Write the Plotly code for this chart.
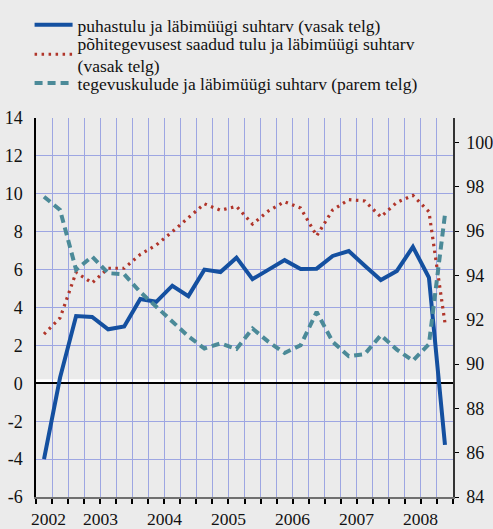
import plotly.graph_objects as go

# kvartalid 2002 I kv ... 2008 II kv
kvartal = list(range(26))
aastad = ["2002", "2003", "2004", "2005", "2006", "2007", "2008"]
aasta_pos = [0.3, 3.5, 7.5, 11.5, 15.5, 19.5, 23.5]

puhastulu = [-4.0, 0.3, 3.55, 3.5, 2.85, 3.0, 4.45, 4.3, 5.15, 4.6,
             6.0, 5.87, 6.63, 5.5, 6.0, 6.5, 6.03, 6.05, 6.72, 6.98,
             6.2, 5.45, 5.93, 7.2, 5.58, -3.25]
pohitegevus = [2.6, 3.45, 5.85, 5.3, 6.07, 6.07, 6.8, 7.3, 8.0, 8.75,
               9.47, 9.13, 9.34, 8.4, 9.1, 9.58, 9.25, 7.78, 9.15, 9.69,
               9.62, 8.78, 9.55, 9.92, 9.06, 3.18]
tegevuskulud = [97.55, 96.95, 94.25, 94.85, 94.1, 94.05, 93.25, 92.6, 91.95, 91.25,
                90.7, 90.93, 90.68, 91.6, 91.0, 90.5, 90.85, 92.35, 91.0, 90.35,
                90.45, 91.3, 90.65, 90.15, 90.9, 96.75]

vasak_ticks = list(range(-6, 15, 2))
vasak_tekst = [str(v) for v in vasak_ticks]  # tavaline miinus, nagu originaalis
parem_ticks = list(range(84, 101, 2))

FONT = "Liberation Serif, Times New Roman, serif"
GRID = "#9da6e2"

fig = go.Figure()

fig.add_trace(go.Scatter(
    x=kvartal, y=tegevuskulud, yaxis="y2", mode="lines", legend="legend3",
    name="tegevuskulude ja läbimüügi suhtarv (parem telg)",
    line=dict(color="#4b8a98", width=4, dash="8px,5px")))
fig.add_trace(go.Scatter(
    x=kvartal, y=pohitegevus, mode="lines", legend="legend2",
    name="põhitegevusest saadud tulu ja läbimüügi suhtarv<br>(vasak telg)",
    line=dict(color="#b0352a", width=3.2, dash="2.5px,4.5px")))
fig.add_trace(go.Scatter(
    x=kvartal, y=puhastulu, mode="lines", legend="legend",
    name="puhastulu ja läbimüügi suhtarv (vasak telg)",
    line=dict(color="#1450a0", width=4)))

# aastad x-teljel
for a, p in zip(aastad, aasta_pos):
    fig.add_annotation(x=p, y=-0.058, xref="x", yref="paper", text=a,
                       showarrow=False, yanchor="middle",
                       font=dict(size=17.5, color="#111", family=FONT))

# valge joon nulljoone kohal
fig.add_shape(type="line", xref="paper", x0=0, x1=1, yref="y",
              ysizemode="pixel", yanchor=0, y0=2.5, y1=2.5,
              line=dict(color="white", width=3), layer="between")

leg = dict(xref="container", yref="container", x=0.06, xanchor="left",
           yanchor="top", bgcolor="rgba(0,0,0,0)",
           font=dict(size=17.5, family=FONT), itemwidth=38)

fig.update_layout(
    width=493, height=529,
    margin=dict(l=36, r=40, t=118, b=32, autoexpand=False),
    paper_bgcolor="#ebebeb", plot_bgcolor="#ebebeb",
    font=dict(family=FONT, size=18, color="#111"),
    showlegend=True,
    legend=dict(leg, y=0.9868),
    legend2=dict(leg, y=0.9527),
    legend3=dict(leg, y=0.8771),
    xaxis=dict(range=[-0.5, 25.5], tickvals=[k - 0.5 for k in range(27)],
               showticklabels=False, ticks="outside", ticklen=5, tickwidth=1.5,
               tickcolor="black", showgrid=True, gridcolor=GRID, gridwidth=1,
               showline=True, linecolor="#707070", linewidth=2, zeroline=False),
    yaxis=dict(range=[-6, 14], tickvals=vasak_ticks, ticktext=vasak_tekst,
               showgrid=True, gridcolor=GRID, gridwidth=1, zeroline=True,
               zerolinecolor="black", zerolinewidth=2, showline=True,
               linecolor="black", linewidth=1.5, ticks="", ticklabelstandoff=8),
    yaxis2=dict(range=[84, 101.1], tickvals=parem_ticks, overlaying="y",
                side="right", showgrid=False, zeroline=False, showline=True,
                linecolor="#333", linewidth=1.5, ticks="outside", ticklen=4,
                tickcolor="black", ticklabelstandoff=4),
)

fig.write_html("out.html", config={"displayModeBar": False},
               post_script="document.body.style.margin='0';")
